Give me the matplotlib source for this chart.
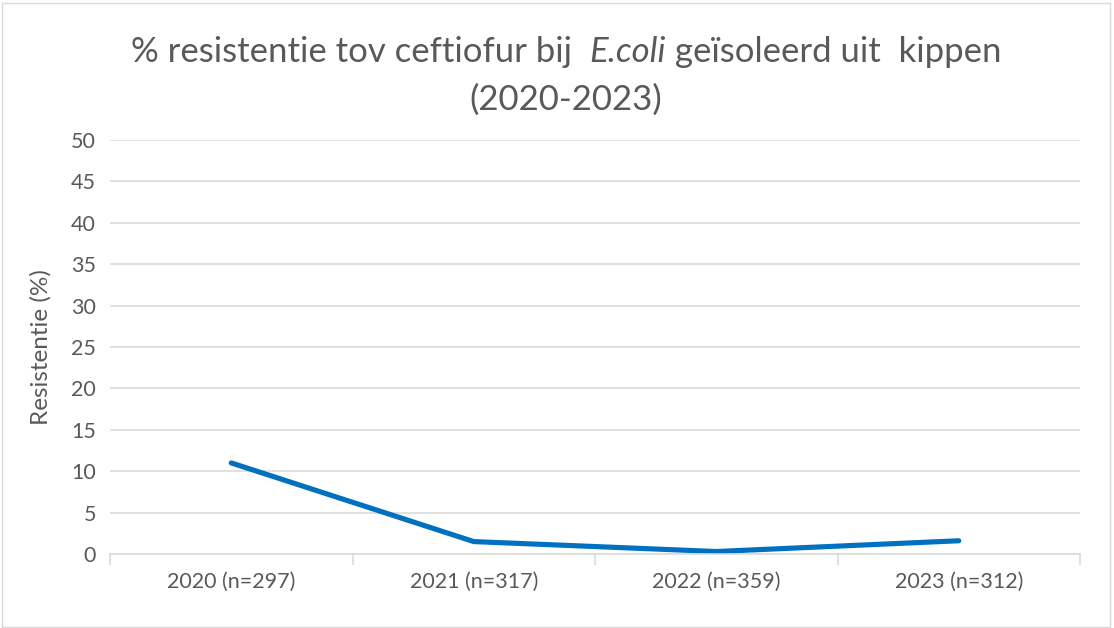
# plot.py
# Line chart: % resistance to ceftiofur in E.coli from chickens (2020-2023)

import numpy as np
import matplotlib.pyplot as plt

plt.rcParams['font.family'] = ['Lato', 'DejaVu Sans']

# data
categories = ['2020 (n=297)', '2021 (n=317)', '2022 (n=359)', '2023 (n=312)']
resistance = [11.0, 1.5, 0.3, 1.6]
y_ticks = [0, 5, 10, 15, 20, 25, 30, 35, 40, 45, 50]

text_grey = '#595959'
grid_grey = '#d9d9d9'

fig = plt.figure(figsize=(11.14, 6.28), dpi=100)
ax = fig.add_axes([110 / 1114, 1 - 554 / 628, 970 / 1114, 414 / 628])

x = np.arange(len(categories))
ax.plot(x, resistance, color='#0070c0', linewidth=3.7, solid_capstyle='round', solid_joinstyle='round')

ax.set_xlim(-0.5, len(categories) - 0.5)
ax.set_ylim(0, 50)
ax.set_yticks(y_ticks)
ax.set_xticks(x)
ax.set_xticklabels(categories)
ax.set_xticks(np.arange(-0.5, len(categories)), minor=True)

ax.grid(axis='y', color=grid_grey, linewidth=1.1)
ax.set_axisbelow(True)
for side in ['top', 'right', 'left']:
    ax.spines[side].set_visible(False)
ax.spines['bottom'].set_color(grid_grey)
ax.spines['bottom'].set_linewidth(1.1)

ax.tick_params(axis='y', length=0, labelsize=15.5, labelcolor=text_grey, pad=10)
ax.tick_params(axis='x', which='major', length=0, labelsize=15.5, labelcolor=text_grey, pad=13)
ax.tick_params(axis='x', which='minor', length=8, color=grid_grey, width=1.1)

ax.set_ylabel('Resistentie (%)', fontsize=17.5, color=text_grey, labelpad=14)

# title with italic E.coli, built from pieces
fig.canvas.draw()
renderer = fig.canvas.get_renderer()
parts = [('% resistentie tov ceftiofur bij  ', 'normal'),
         ('E.coli', 'italic'),
         (' geïsoleerd uit  kippen', 'normal')]
texts = []
for s, style in parts:
    t = fig.text(0, 1 - 52 / 628, s, fontsize=25, color=text_grey, style=style, va='center', ha='left')
    texts.append(t)
widths = [t.get_window_extent(renderer).width for t in texts]
start = 566 - sum(widths) / 2
for t, w in zip(texts, widths):
    t.set_x(start / 1114)
    start += w
fig.text(566 / 1114, 1 - 100 / 628, '(2020-2023)', fontsize=25, color=text_grey, va='center', ha='center')

# light border round the chart area
fig.patches.append(plt.Rectangle((0.002, 0.002), 0.994, 0.994, transform=fig.transFigure,
                                 fill=False, edgecolor='#d9d9d9', linewidth=1))

fig.savefig('out.png', dpi=100)
